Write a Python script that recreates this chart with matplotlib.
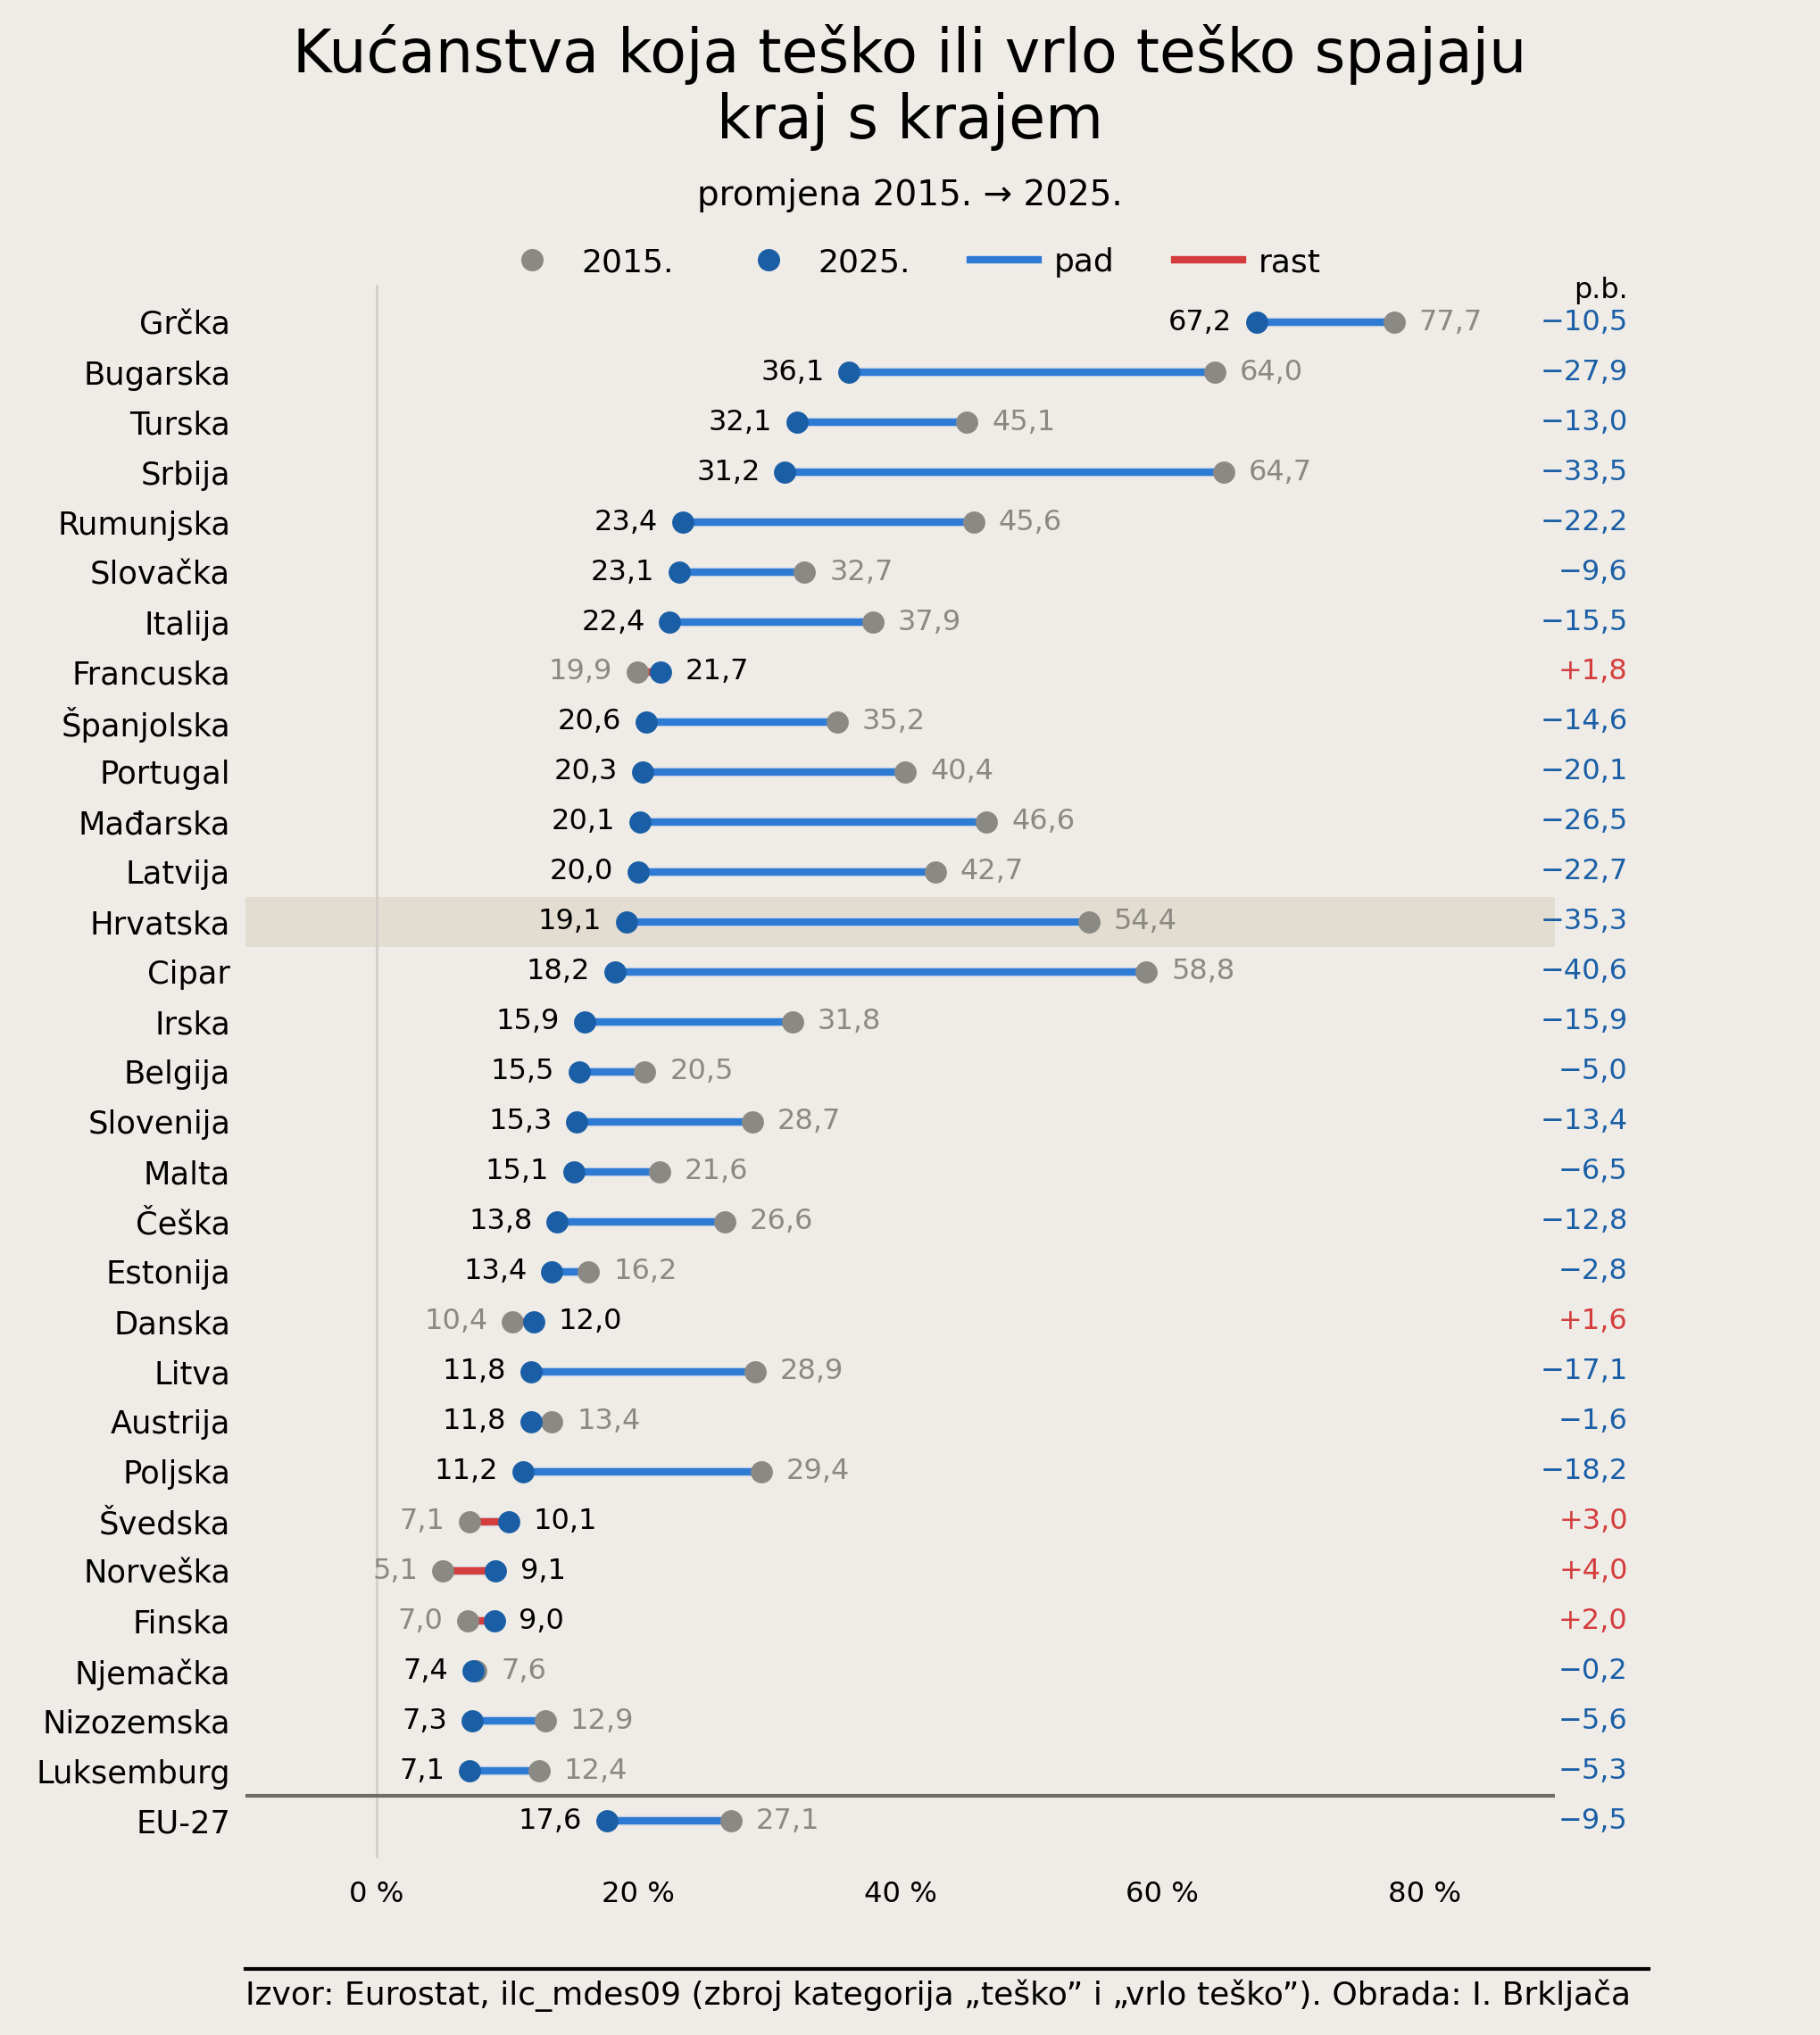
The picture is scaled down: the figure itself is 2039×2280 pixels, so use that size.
import matplotlib
matplotlib.use("Agg")
import matplotlib.pyplot as plt
import matplotlib.patheffects as pe
from matplotlib.lines import Line2D

# data
countries = ["Grčka", "Bugarska", "Turska", "Srbija", "Rumunjska", "Slovačka",
             "Italija", "Francuska", "Španjolska", "Portugal", "Mađarska",
             "Latvija", "Hrvatska", "Cipar", "Irska", "Belgija", "Slovenija",
             "Malta", "Češka", "Estonija", "Danska", "Litva", "Austrija",
             "Poljska", "Švedska", "Norveška", "Finska", "Njemačka",
             "Nizozemska", "Luksemburg", "EU-27"]
y2015 = [77.7, 64.0, 45.1, 64.7, 45.6, 32.7, 37.9, 19.9, 35.2, 40.4, 46.6,
         42.7, 54.4, 58.8, 31.8, 20.5, 28.7, 21.6, 26.6, 16.2, 10.4, 28.9,
         13.4, 29.4, 7.1, 5.1, 7.0, 7.6, 12.9, 12.4, 27.1]
y2025 = [67.2, 36.1, 32.1, 31.2, 23.4, 23.1, 22.4, 21.7, 20.6, 20.3, 20.1,
         20.0, 19.1, 18.2, 15.9, 15.5, 15.3, 15.1, 13.8, 13.4, 12.0, 11.8,
         11.8, 11.2, 10.1, 9.1, 9.0, 7.4, 7.3, 7.1, 17.6]
xticks = [0, 20, 40, 60, 80]
highlight = "Hrvatska"

BG = "#efece7"
GRAY = "#8b8984"
BLUE_DOT = "#1a5fa6"
BLUE_LINE = "#2e7bd6"
RED = "#d43d3d"


def fmt(v, sign=False):
    s = f"{abs(v):.1f}".replace(".", ",")
    if sign:
        return ("+" if v > 0 else "\u2212") + s
    return s


fig = plt.figure(figsize=(10.195, 11.4), dpi=200, facecolor=BG)
ax = fig.add_axes([0.1348, 0.0867, 0.7197, 0.7733])
ax.set_facecolor(BG)

n = len(countries)
ypos = list(range(n))
ax.set_xlim(-10, 90)
ax.set_ylim(n - 1 + 0.75, -0.75)

ax.axvline(0, color="#d2cec8", lw=1.0, zorder=1)
hi = countries.index(highlight)
ax.axhspan(hi - 0.5, hi + 0.5, color="#e3dcd0", lw=0, zorder=0)
ax.axhline(n - 1.5, color="#6f6b66", lw=1.5, zorder=2)

outline = [pe.Stroke(linewidth=4.2, foreground="#dfe2e6"), pe.Normal()]
for i, (c, a, b) in enumerate(zip(countries, y2015, y2025)):
    d = round(b - a, 1)
    col = BLUE_LINE if d < 0 else RED
    ax.plot([a, b], [i, i], color=col, lw=3, solid_capstyle="butt",
            zorder=3, path_effects=outline)
    ax.scatter([a], [i], s=80, color=GRAY, zorder=4, lw=0)
    ax.scatter([b], [i], s=80, color=BLUE_DOT, zorder=5, lw=0)
    if d < 0:
        ax.annotate(fmt(b), (b, i), xytext=(-10, 0), textcoords="offset points",
                    ha="right", va="center", fontsize=11.5, color="black")
        ax.annotate(fmt(a), (a, i), xytext=(10, 0), textcoords="offset points",
                    ha="left", va="center", fontsize=11.5, color=GRAY)
    else:
        ax.annotate(fmt(a), (a, i), xytext=(-10, 0), textcoords="offset points",
                    ha="right", va="center", fontsize=11.5, color=GRAY)
        ax.annotate(fmt(b), (b, i), xytext=(10, 0), textcoords="offset points",
                    ha="left", va="center", fontsize=11.5, color="black")
    ax.text(1.0555, i, fmt(d, sign=True), transform=ax.get_yaxis_transform(),
            ha="right", va="center", fontsize=11.5,
            color=BLUE_DOT if d < 0 else RED)

ax.text(1.0555, -0.63, "p.b.", transform=ax.get_yaxis_transform(),
        ha="right", va="center", fontsize=11.5, color="black")

ax.set_yticks(ypos)
ax.set_yticklabels(countries, fontsize=12.7)
ax.set_xticks(xticks)
ax.set_xticklabels([f"{t} %" for t in xticks], fontsize=11.6)
ax.tick_params(axis="both", length=0)
ax.tick_params(axis="y", pad=6)
ax.tick_params(axis="x", pad=9)
for s in ax.spines.values():
    s.set_visible(False)

fig.text(0.5, 0.957, "Kućanstva koja teško ili vrlo teško spajaju\nkraj s krajem",
         ha="center", va="center", fontsize=24, linespacing=1.15)
fig.text(0.5, 0.904, "promjena 2015. \u2192 2025.", ha="center", va="center",
         fontsize=14)

handles = [
    Line2D([], [], marker="o", ls="none", color=GRAY, markersize=8),
    Line2D([], [], marker="o", ls="none", color=BLUE_DOT, markersize=8),
    Line2D([], [], color=BLUE_LINE, lw=3),
    Line2D([], [], color=RED, lw=3),
]
fig.legend(handles, ["2015.", "2025.", "pad", "rast"], ncol=4,
           loc="center", bbox_to_anchor=(0.4997, 0.871), frameon=False,
           fontsize=13, handlelength=2.1, columnspacing=1.88,
           handletextpad=0.48)

fig.add_artist(Line2D([0.1348, 0.906], [0.0325, 0.0325], color="black", lw=1.5,
                      transform=fig.transFigure))
fig.text(0.1348, 0.0195,
         "Izvor: Eurostat, ilc_mdes09 (zbroj kategorija \u201eteško\u201d i "
         "\u201evrlo teško\u201d). Obrada: I. Brkljača",
         ha="left", va="center", fontsize=13)

fig.savefig("out.png", dpi=200, facecolor=BG)
